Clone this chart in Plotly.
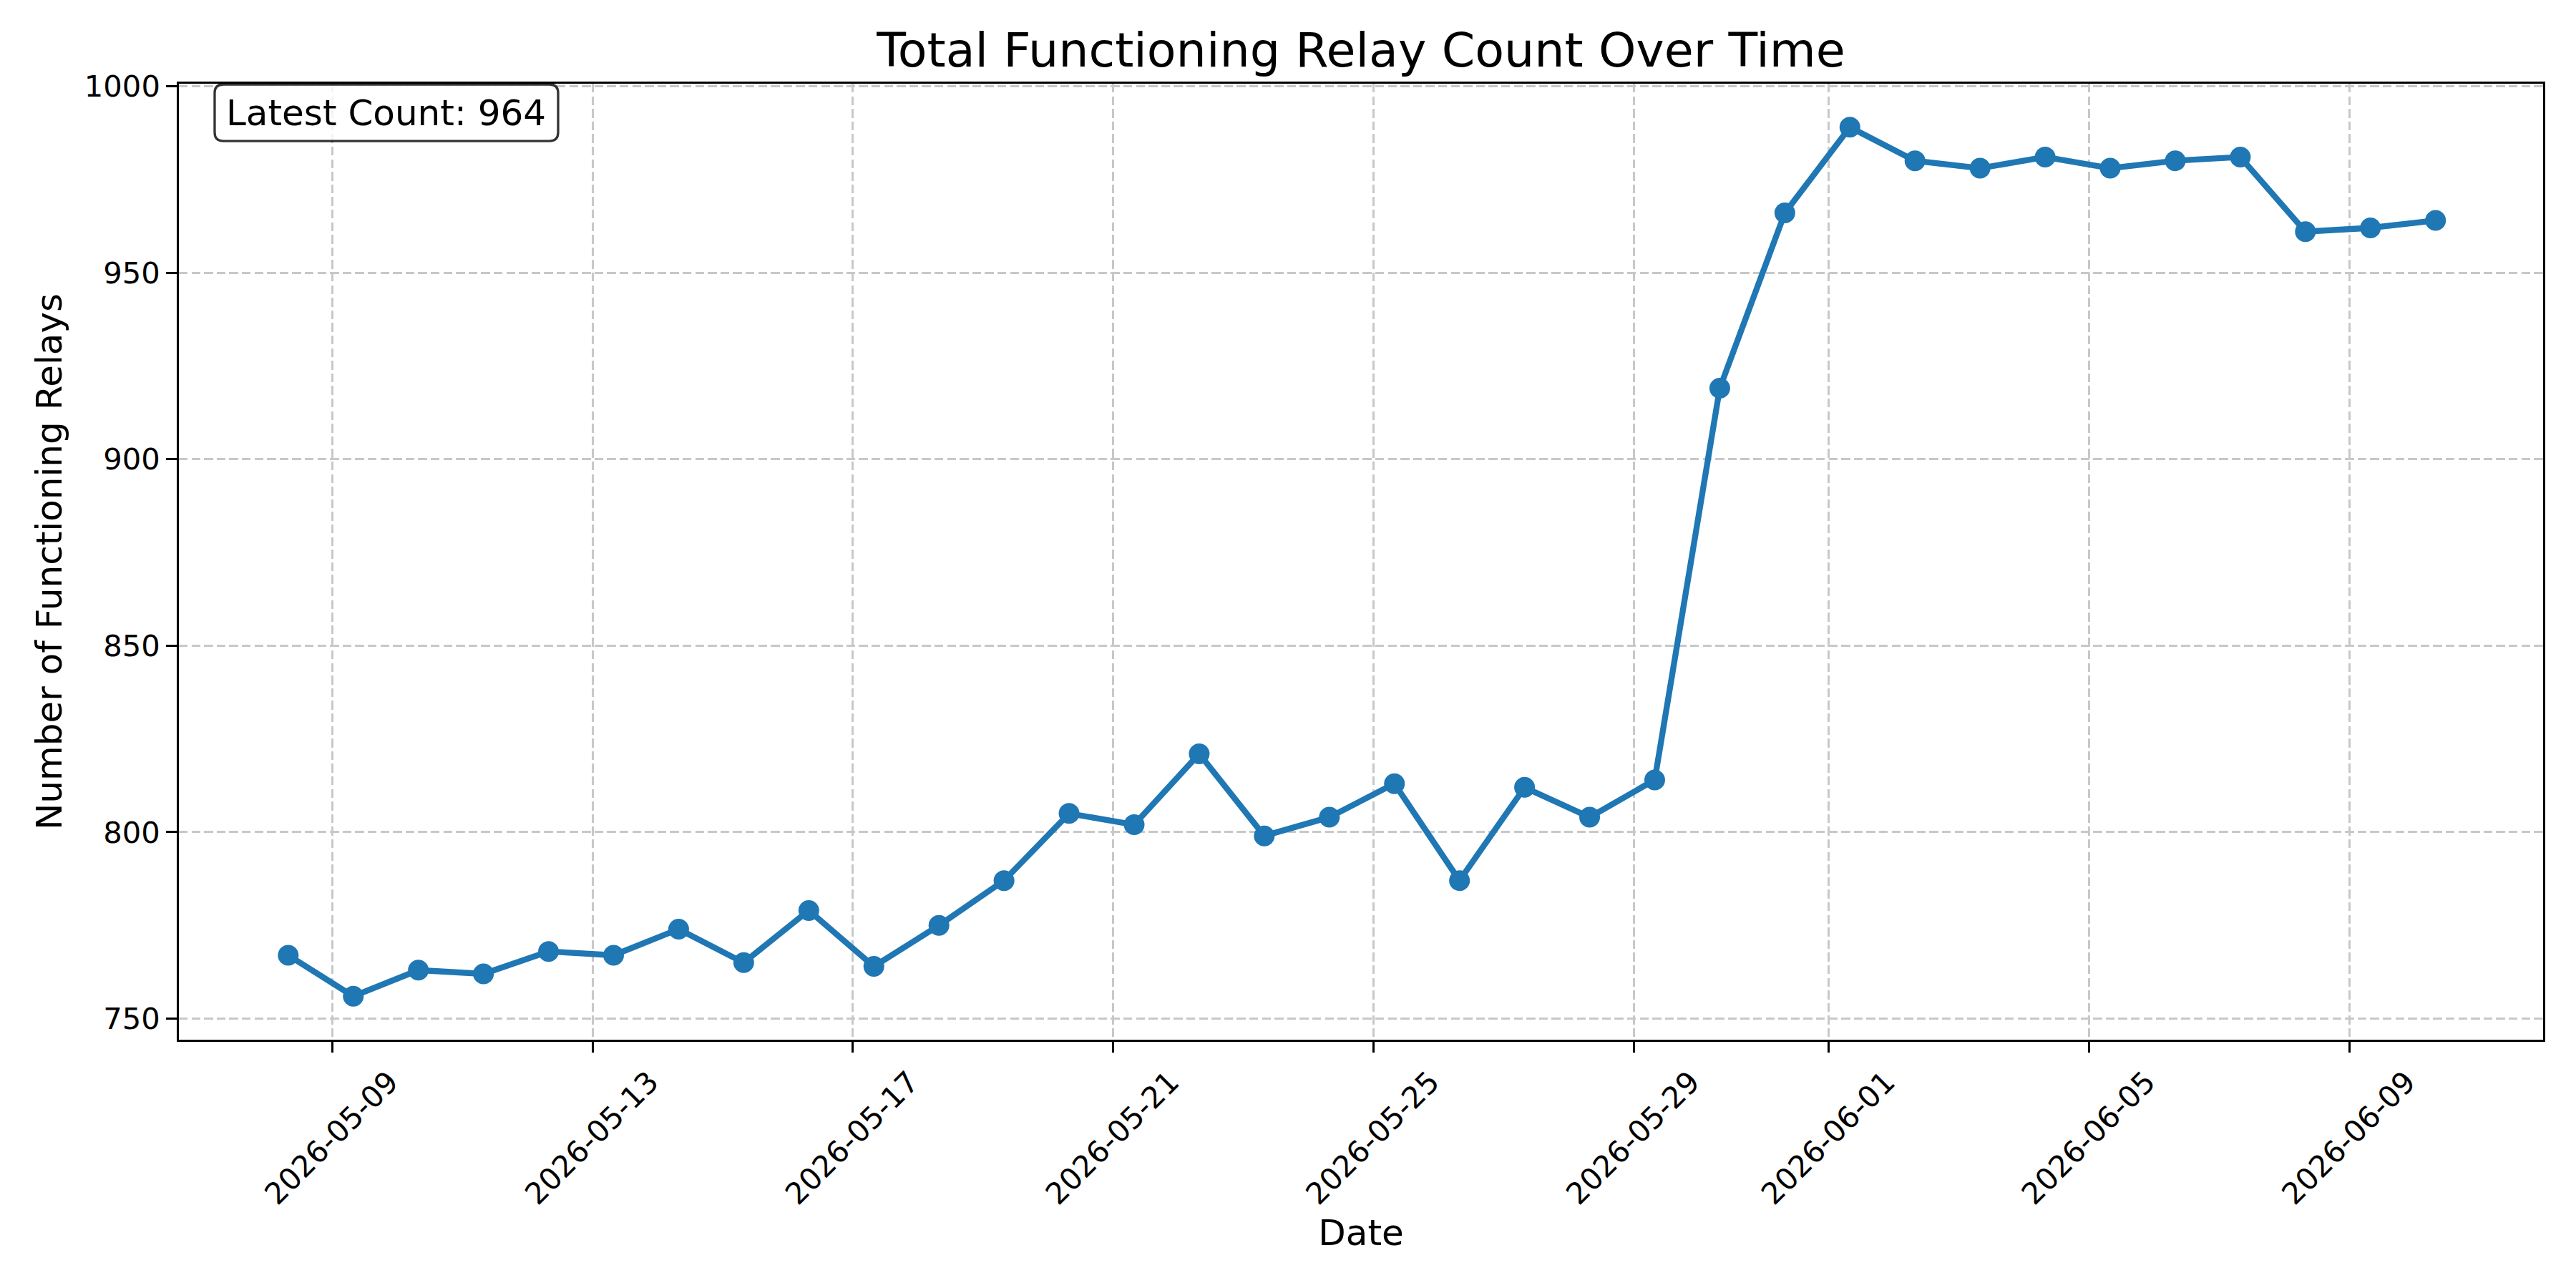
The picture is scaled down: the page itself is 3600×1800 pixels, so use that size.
import plotly.graph_objects as go

dates = [
    "2026-05-08", "2026-05-09", "2026-05-10", "2026-05-11", "2026-05-12",
    "2026-05-13", "2026-05-14", "2026-05-15", "2026-05-16", "2026-05-17",
    "2026-05-18", "2026-05-19", "2026-05-20", "2026-05-21", "2026-05-22",
    "2026-05-23", "2026-05-24", "2026-05-25", "2026-05-26", "2026-05-27",
    "2026-05-28", "2026-05-29", "2026-05-30", "2026-05-31", "2026-06-01",
    "2026-06-02", "2026-06-03", "2026-06-04", "2026-06-05", "2026-06-06",
    "2026-06-07", "2026-06-08", "2026-06-09", "2026-06-10",
]
sample_time = "07:45"
relay_counts = [
    767, 756, 763, 762, 768, 767, 774, 765, 779, 764,
    775, 787, 805, 802, 821, 799, 804, 813, 787, 812,
    804, 814, 919, 966, 989, 980, 978, 981, 978, 980,
    981, 961, 962, 964,
]
x_tick_dates = [
    "2026-05-09", "2026-05-13", "2026-05-17", "2026-05-21", "2026-05-25",
    "2026-05-29", "2026-06-01", "2026-06-05", "2026-06-09",
]
y_ticks = [750, 800, 850, 900, 950, 1000]

timestamps = [f"{d} {sample_time}" for d in dates]

FONT = "DejaVu Sans"
BLUE = "#1f77b4"
GRID = "#c8c8c8"

fig = go.Figure()
fig.add_trace(go.Scatter(
    x=timestamps, y=relay_counts, mode="lines+markers",
    line=dict(color=BLUE, width=8.3),
    marker=dict(color=BLUE, size=29, line=dict(width=0)),
    showlegend=False,
))

fig.update_layout(
    width=3600, height=1800,
    paper_bgcolor="white", plot_bgcolor="white",
    margin=dict(l=250, r=46, t=117, b=347),
    font=dict(family=FONT, color="black"),
    title=dict(text="Total Functioning Relay Count Over Time",
               font=dict(size=66.7, family=FONT, color="black"),
               x=0.5, xref="paper", xanchor="center",
               y=1 - 70 / 1800, yref="container", yanchor="middle"),
    xaxis=dict(
        type="date",
        range=["2026-05-06 15:25", "2026-06-11 23:25"],
        tickvals=x_tick_dates, ticktext=x_tick_dates,
        tickangle=-45, ticklabelshift=80,
        tickfont=dict(size=41.7, family=FONT, color="black"),
        ticks="outside", ticklen=14.6, tickwidth=3.3, tickcolor="black",
        showline=True, linewidth=3.3, linecolor="black", mirror=True,
        showgrid=True, gridcolor=GRID, gridwidth=3.3, griddash="12.3px,5.3px",
        zeroline=False,
        title=dict(text="Date", font=dict(size=50, family=FONT, color="black"), standoff=13),
    ),
    yaxis=dict(
        range=[744.35, 1000.65],
        tickvals=y_ticks,
        tickfont=dict(size=41.7, family=FONT, color="black"),
        ticks="outside", ticklen=14.6, tickwidth=3.3, tickcolor="black",
        showline=True, linewidth=3.3, linecolor="black", mirror=True,
        showgrid=True, gridcolor=GRID, gridwidth=3.3, griddash="12.3px,5.3px",
        zeroline=False,
        title=dict(text="Number of Functioning Relays",
                   font=dict(size=50, family=FONT, color="black"), standoff=16),
    ),
)

# rounded text box (paper coordinates)
bx0, bx1, by0, by1 = 0.01513, 0.1604, 0.9401, 0.99925
rx, ry = 12 / 3304, 12 / 1336
path = (
    f"M {bx0 + rx},{by1} L {bx1 - rx},{by1} Q {bx1},{by1} {bx1},{by1 - ry} "
    f"L {bx1},{by0 + ry} Q {bx1},{by0} {bx1 - rx},{by0} "
    f"L {bx0 + rx},{by0} Q {bx0},{by0} {bx0},{by0 + ry} "
    f"L {bx0},{by1 - ry} Q {bx0},{by1} {bx0 + rx},{by1} Z"
)
fig.add_shape(type="path", path=path, xref="paper", yref="paper",
              fillcolor="rgba(255,255,255,0.8)",
              line=dict(color="rgba(0,0,0,0.8)", width=3.3), layer="above")

fig.add_annotation(
    text=f"Latest Count: {relay_counts[-1]}",
    xref="paper", yref="paper", x=(bx0 + bx1) / 2, y=(by0 + by1) / 2,
    xanchor="center", yanchor="middle", showarrow=False,
    font=dict(size=50, family=FONT, color="black"),
)

fig.write_html("out.html")
